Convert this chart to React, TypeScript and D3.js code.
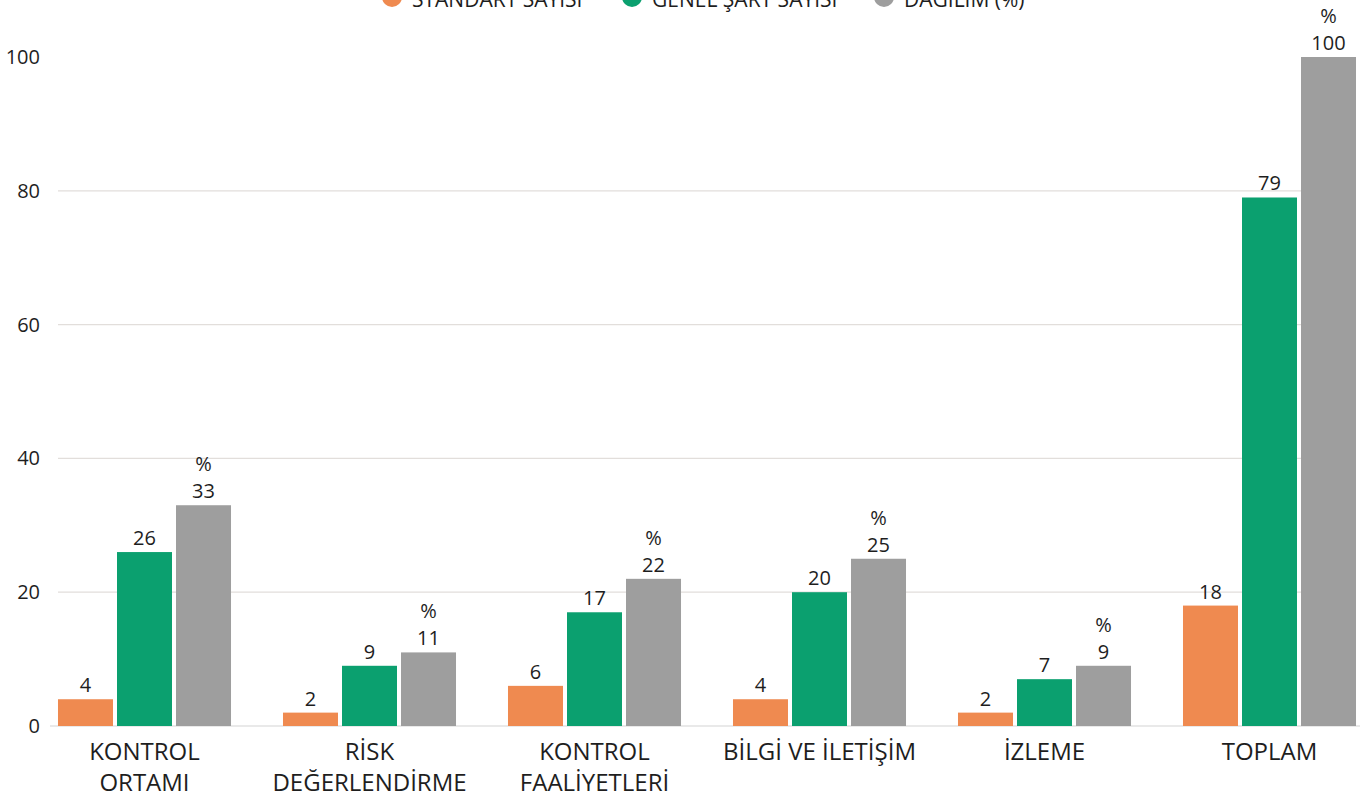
import React from 'react';
import * as d3 from 'd3';

const categories = [
  ['KONTROL', 'ORTAMI'],
  ['RİSK', 'DEĞERLENDİRME'],
  ['KONTROL', 'FAALİYETLERİ'],
  ['BİLGİ VE İLETİŞİM'],
  ['İZLEME'],
  ['TOPLAM'],
];
const standartSayisi = [4, 2, 6, 4, 2, 18];
const genelSartSayisi = [26, 9, 17, 20, 7, 79];
const dagilim = [33, 11, 22, 25, 9, 100];
const seriesNames = ['STANDART SAYISI', 'GENEL ŞART SAYISI', 'DAĞILIM (%)'];
const yTicks = [0, 20, 40, 60, 80, 100];

const colors = ['#ef8a50', '#0ba06f', '#9e9e9e'];
const font = '"Open Sans", "Noto Sans", sans-serif';

const App = () => {
  const width = 1366;
  const height = 798;

  const series = [standartSayisi, genelSartSayisi, dagilim];

  const x0 = d3.scaleBand<number>()
    .domain(d3.range(categories.length))
    .range([32, 1382])
    .paddingInner(0.231)
    .paddingOuter(0.1155);

  const x1 = d3.scaleBand<number>()
    .domain([0, 1, 2])
    .range([0, x0.bandwidth()])
    .paddingInner(0.068);

  const y = d3.scaleLinear().domain([0, 100]).range([726, 57]);

  // legend sits half outside the top edge, like in the source
  const legendX = [392, 632, 884];

  return (
    <svg width={width} height={height}
      style={{ position: 'absolute', left: 0, top: 0, display: 'block', background: '#fff' }}
      fontFamily={font}>
      {/* grid */}
      {yTicks.filter(t => t > 0 && t < 100).map(t => (
        <line key={t} x1={58} x2={1356} y1={y(t)} y2={y(t)} stroke="#e2dedb" strokeWidth={1.2} />
      ))}
      <line x1={50} x2={1360} y1={y(0)} y2={y(0)} stroke="#d3d3d3" strokeWidth={1.2} />

      {/* y labels */}
      {yTicks.map(t => (
        <text key={t} x={40} y={y(t)} dy="0.35em" textAnchor="end" fontSize={20} fill="#1e1e1e">{t}</text>
      ))}

      {/* bars */}
      {categories.map((c, i) => (
        <g key={i} transform={`translate(${x0(i)},0)`}>
          {series.map((s, j) => {
            const bx = x1(j)!;
            const bw = x1.bandwidth();
            const top = y(s[i]);
            return (
              <g key={j}>
                <rect x={bx} y={top} width={bw} height={y(0) - top} fill={colors[j]} />
                <text x={bx + bw / 2} y={top - 7} textAnchor="middle" fontSize={20} fill="#1e1e1e">{s[i]}</text>
                {j === 2 && (
                  <text x={bx + bw / 2} y={top - 34} textAnchor="middle" fontSize={20} fill="#1e1e1e">%</text>
                )}
              </g>
            );
          })}
          {c.map((line, k) => (
            <text key={k} x={x0.bandwidth() / 2} y={760 + k * 31} textAnchor="middle" fontSize={24} fill="#1e1e1e">{line}</text>
          ))}
        </g>
      ))}

      {/* legend */}
      {seriesNames.map((n, j) => (
        <g key={n} transform={`translate(${legendX[j]},0)`}>
          <circle cx={0} cy={-3} r={10} fill={colors[j]} />
          <text x={20} y={7} fontSize={21} fill="#1e1e1e">{n}</text>
        </g>
      ))}
    </svg>
  );
};

export default App;
